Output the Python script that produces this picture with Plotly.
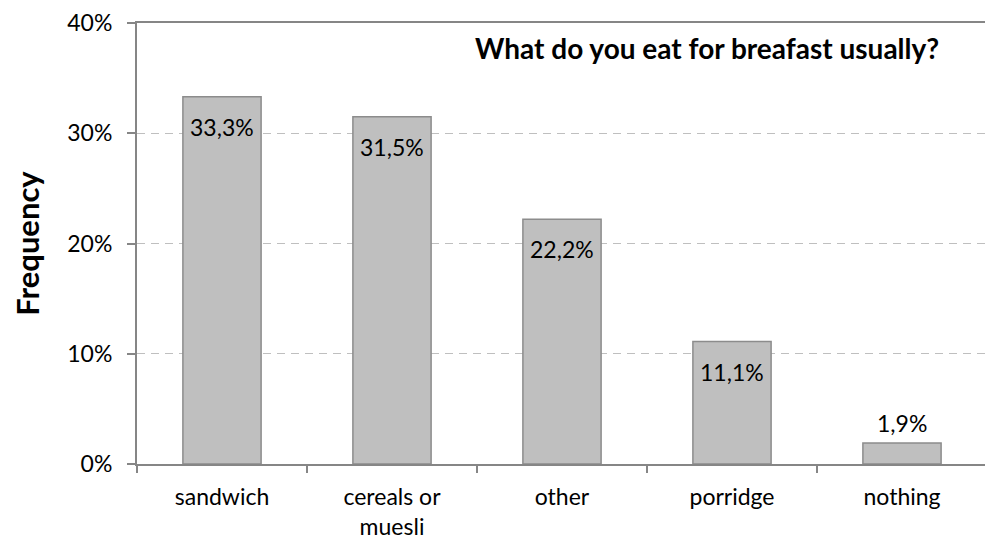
import plotly.graph_objects as go

categories = ["sandwich", "cereals or<br>muesli", "other", "porridge", "nothing"]
values = [33.3, 31.5, 22.2, 11.1, 1.9]
y_ticks = [0, 10, 20, 30, 40]
title_text = "What do you eat for breafast usually?"
y_title = "Frequency"

FONT = "Lato, 'Open Sans', sans-serif"

fig = go.Figure()
fig.add_trace(go.Bar(
    x=categories, y=values,
    width=0.46,
    marker=dict(color="#BFBFBF", line=dict(color="#8C8C8C", width=1.5)),
    hoverinfo="skip",
))

labels = [f"{v:.1f}%".replace(".", ",") for v in values]
for c, v, t in zip(categories, values, labels):
    inside = v > 5
    fig.add_annotation(x=c, y=v, text=t, showarrow=False,
                       yshift=-30 if inside else 20,
                       font=dict(family=FONT, size=23, color="#000000"))

fig.add_annotation(xref="paper", yref="paper", x=0.671, y=0.943,
                   xanchor="center", yanchor="middle", showarrow=False,
                   text="<b>" + title_text + "</b>",
                   font=dict(family=FONT, size=28, color="#000000"))

fig.update_layout(
    width=993, height=540,
    margin=dict(l=129, r=14, t=15, b=84),
    paper_bgcolor="white", plot_bgcolor="white",
    showlegend=False,
    font=dict(family=FONT, size=23, color="#000000"),
    xaxis=dict(
        type="category", automargin=False,
        showline=True, linecolor="#868686", linewidth=2, mirror=True,
        ticks="outside", tickson="boundaries", ticklen=7, tickcolor="#868686", tickwidth=2,
        tickfont=dict(family=FONT, size=23), ticklabelstandoff=11,
        showgrid=False,
    ),
    yaxis=dict(
        range=[0, 40], automargin=False,
        tickvals=y_ticks, ticktext=[f"{t}%" for t in y_ticks],
        showline=True, linecolor="#868686", linewidth=2, mirror=True,
        ticks="outside", ticklen=8, tickcolor="#868686", tickwidth=2,
        tickfont=dict(family=FONT, size=23), ticklabelstandoff=10,
        showgrid=True, gridcolor="#BFBFBF", griddash="8px,6px", gridwidth=1.3,
        zeroline=False,
        title=dict(text="<b>" + y_title + "</b>", font=dict(family=FONT, size=31), standoff=22),
    ),
)

fig.write_html("out.html")
